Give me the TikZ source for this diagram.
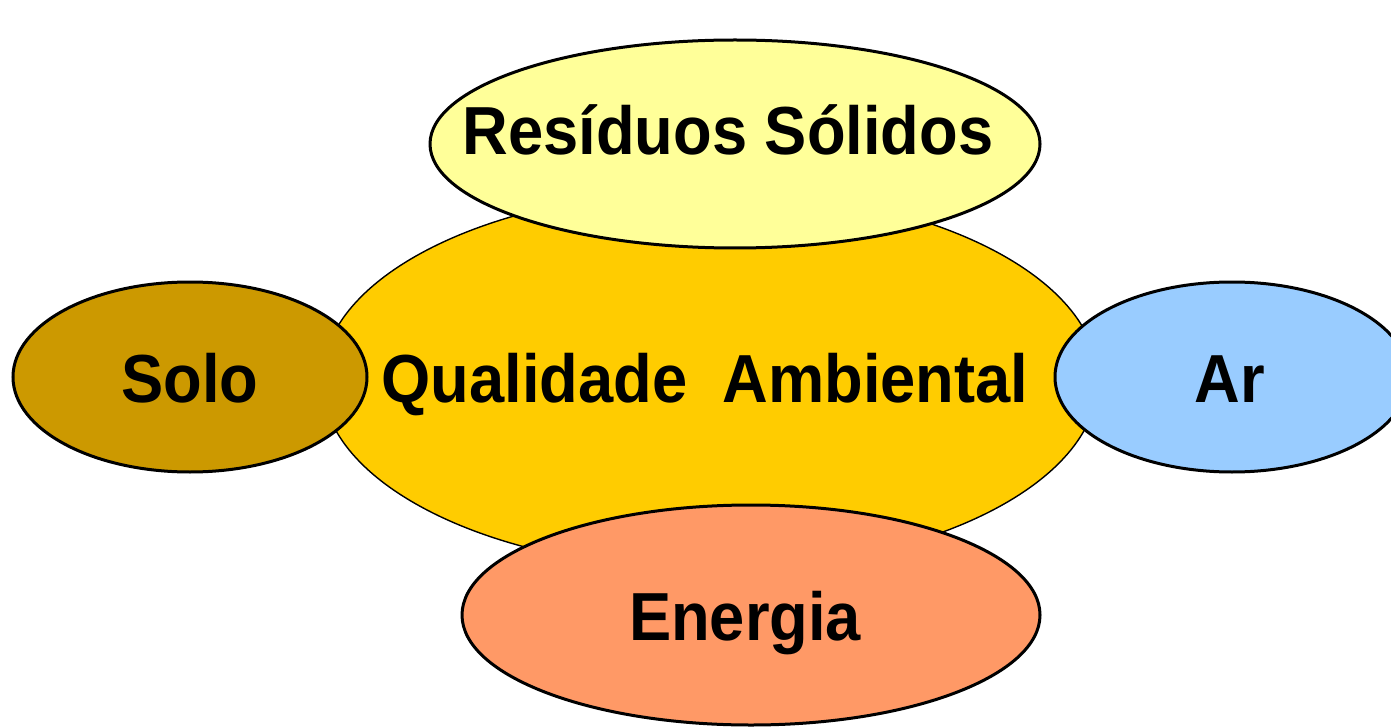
\documentclass[tikz,border=0pt]{standalone}
\usepackage{fontspec}
\setmainfont{Liberation Sans}[FakeStretch=0.93]
\usetikzlibrary{shapes.geometric}
\definecolor{centralfill}{HTML}{FFCC00}
\definecolor{residfill}{HTML}{FFFF99}
\definecolor{solofill}{HTML}{CC9900}
\definecolor{arfill}{HTML}{99CCFF}
\definecolor{energfill}{HTML}{FF9966}
\tikzset{
  blob/.style={ellipse, draw=black, line width=3pt, inner sep=0pt},
  lbl/.style={anchor=base, inner sep=0pt, font=\fontsize{68}{72}\selectfont\bfseries}
}
\begin{document}
\begin{tikzpicture}[x=1pt,y=-1pt]
\useasboundingbox (0,0) rectangle (1391,727);
\clip (0,0) rectangle (1391,727);
\node[blob, line width=1.4pt, fill=centralfill, minimum width=776pt, minimum height=380pt] (central) at (710,380) {};
\node[blob, fill=solofill, minimum width=354pt, minimum height=190pt] (solo) at (190,377) {};
\node[blob, fill=arfill, minimum width=354pt, minimum height=190pt] (ar) at (1232,377) {};
\node[blob, fill=residfill, minimum width=610pt, minimum height=208pt] (resid) at (735,144) {};
\node[blob, fill=energfill, minimum width=578pt, minimum height=220pt] (energ) at (751,615) {};
\node[lbl] (tresid) at (728,155) {Resíduos Sólidos};
\node[lbl] (tcentral) at (705,402) {Qualidade\ \ Ambiental};
\node[lbl] (tsolo) at (190,402) {Solo};
\node[lbl] (tar) at (1230,402) {Ar};
\node[lbl] (tenerg) at (745,640) {Energia};
\end{tikzpicture}
\end{document}
